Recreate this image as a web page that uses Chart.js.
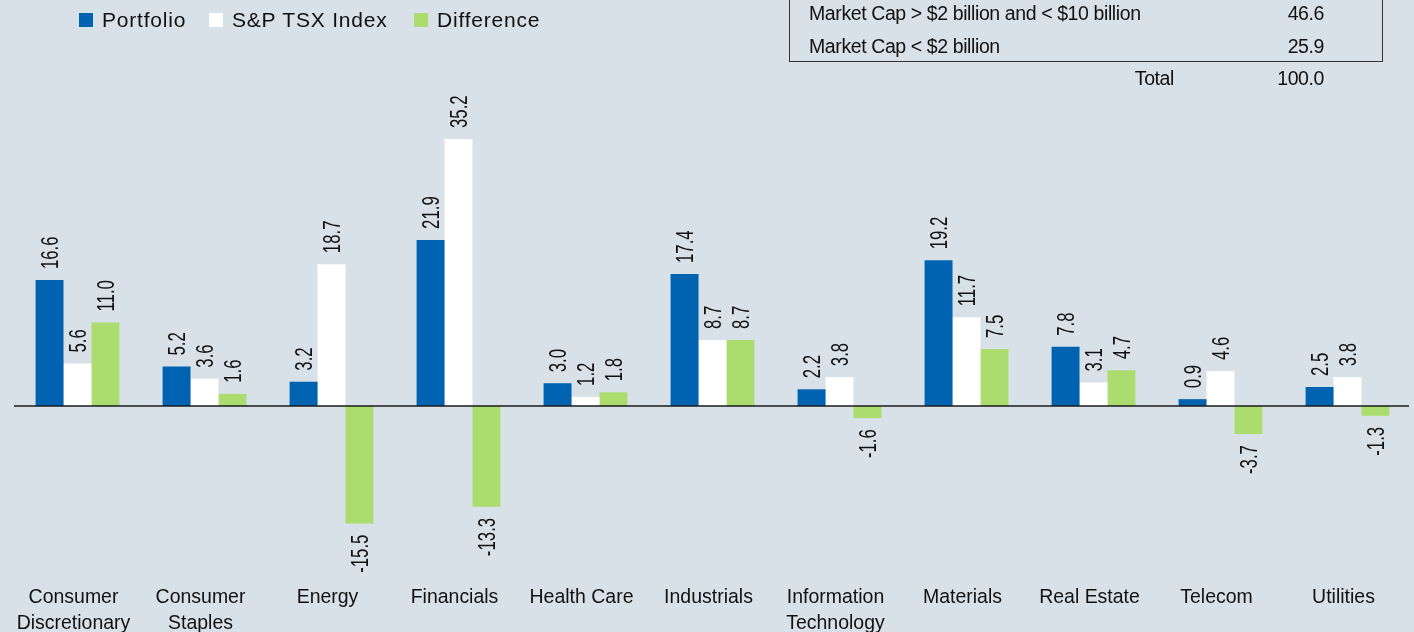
<!DOCTYPE html>
<html>
<head>
<meta charset="utf-8">
<script src="https://cdn.jsdelivr.net/npm/chart.js@4.4.1/dist/chart.umd.min.js"></script>
<style>
  html, body { margin: 0; padding: 0; background: #d9e1e8; overflow: hidden; }
  #wrap { position: relative; width: 1414px; height: 632px; }
  canvas { position: absolute; left: 0; top: 0; }
  .lg { position: absolute; top: 8px; font: 21px "Liberation Sans", Arial, sans-serif; letter-spacing: 0.8px; color: #111; white-space: nowrap; line-height: 24px; }
  .sq { position: absolute; top: 13px; width: 14px; height: 14px; }
  .box { position: absolute; left: 789px; top: -40px; width: 594px; height: 102px; border: 1px solid #333; box-sizing: border-box; }
  .tt { position: absolute; font: 19.5px "Liberation Sans", Arial, sans-serif; letter-spacing: -0.4px; color: #111; white-space: nowrap; line-height: 24px; }
</style>
</head>
<body>
<div id="wrap">
  <canvas id="chart" width="1414" height="632"></canvas>
  <div id="legend"></div>
  <div class="box"></div>
  <div id="table"></div>
</div>
<script>
// categories + series
const categories = [
  ['Consumer', 'Discretionary'], ['Consumer', 'Staples'], 'Energy', 'Financials', 'Health Care',
  'Industrials', ['Information', 'Technology'], 'Materials', 'Real Estate', 'Telecom', 'Utilities'
];
const portfolio  = [16.6, 5.2, 3.2, 21.9, 3.0, 17.4, 2.2, 19.2, 7.8, 0.9, 2.5];
const tsxIndex   = [5.6, 3.6, 18.7, 35.2, 1.2, 8.7, 3.8, 11.7, 3.1, 4.6, 3.8];
const difference = [11.0, 1.6, -15.5, -13.3, 1.8, 8.7, -1.6, 7.5, 4.7, -3.7, -1.3];

const seriesNames  = ['Portfolio', 'S&P TSX Index', 'Difference'];
const seriesColors = ['#0063b1', '#ffffff', '#aadd6e'];

// market cap table (top right)
const capLabels = ['Market Cap > $2 billion and < $10 billion', 'Market Cap < $2 billion'];
const capValues = [46.6, 25.9];
const capTotal = 100.0;

const esc = (s) => s.replace(/&/g, '&amp;').replace(/</g, '&lt;').replace(/>/g, '&gt;');

// legend (html)
const legendX = [79, 209, 414];
const legendEl = document.getElementById('legend');
seriesNames.forEach((n, i) => {
    legendEl.innerHTML += `<div class="sq" style="left:${legendX[i]}px;background:${seriesColors[i]}"></div>`;
    legendEl.innerHTML += `<div class="lg" style="left:${legendX[i] + 23}px">${esc(n)}</div>`;
});

// table (html)
const tableEl = document.getElementById('table');
capLabels.forEach((l, i) => {
    const y = 1 + i * 33;
    tableEl.innerHTML += `<div class="tt" style="left:809px;top:${y}px">${esc(l)}</div>`;
    tableEl.innerHTML += `<div class="tt" style="right:${1414 - 1324}px;top:${y}px">${capValues[i].toFixed(1)}</div>`;
});
tableEl.innerHTML += `<div class="tt" style="right:${1414 - 1174}px;top:66px">Total</div>`;
tableEl.innerHTML += `<div class="tt" style="right:${1414 - 1324}px;top:66px">${capTotal.toFixed(1)}</div>`;

const FONT = '"Liberation Sans", Arial, sans-serif';

// zero line, value labels, category labels (condensed look via scale)
const barLabels = {
    id: 'barLabels',
    afterDatasetsDraw(chart) {
        const ctx = chart.ctx;
        const y0 = chart.scales.y.getPixelForValue(0);
        ctx.save();
        ctx.strokeStyle = '#1a1a1a';
        ctx.lineWidth = 1.6;
        ctx.beginPath();
        ctx.moveTo(chart.chartArea.left, y0);
        ctx.lineTo(chart.chartArea.right - 2, y0);
        ctx.stroke();

        ctx.fillStyle = '#111';
        ctx.font = '24px ' + FONT;
        ctx.textBaseline = 'alphabetic';
        const capH = 17;
        chart.data.datasets.forEach((ds, di) => {
            chart.getDatasetMeta(di).data.forEach((bar, i) => {
                const v = ds.data[i];
                ctx.save();
                ctx.translate(bar.x, v >= 0 ? bar.y - 11 : bar.y + 11);
                ctx.rotate(-Math.PI / 2);
                ctx.scale(0.7, 1);
                ctx.textAlign = v >= 0 ? 'left' : 'right';
                ctx.fillText(v.toFixed(1), 0, capH / 2);
                ctx.restore();
            });
        });

        // category labels
        const xs = chart.scales.x;
        ctx.font = '20.5px ' + FONT;
        ctx.textAlign = 'center';
        chart.data.labels.forEach((lab, i) => {
            const lines = Array.isArray(lab) ? lab : [lab];
            const cx = xs.getPixelForValue(i) - 4;
            lines.forEach((t, li) => {
                ctx.save();
                ctx.translate(cx, 603 + li * 25.5);
                ctx.scale(0.95, 1);
                ctx.fillText(t, 0, 0);
                ctx.restore();
            });
        });
        ctx.restore();
    }
};

new Chart(document.getElementById('chart'), {
    type: 'bar',
    data: {
        labels: categories,
        datasets: seriesNames.map((n, i) => ({
            label: n,
            data: [portfolio, tsxIndex, difference][i],
            backgroundColor: seriesColors[i],
            borderWidth: 0,
            categoryPercentage: 0.66,
            barPercentage: 1.0
        }))
    },
    options: {
        responsive: false,
        animation: false,
        layout: { padding: { left: 14, right: 3, top: 0, bottom: 0 } },
        plugins: { legend: { display: false }, tooltip: { enabled: false } },
        scales: {
            x: { display: false },
            y: {
                display: false,
                min: -29.8,
                max: 53.53
            }
        }
    },
    plugins: [barLabels]
});
</script>
</body>
</html>
